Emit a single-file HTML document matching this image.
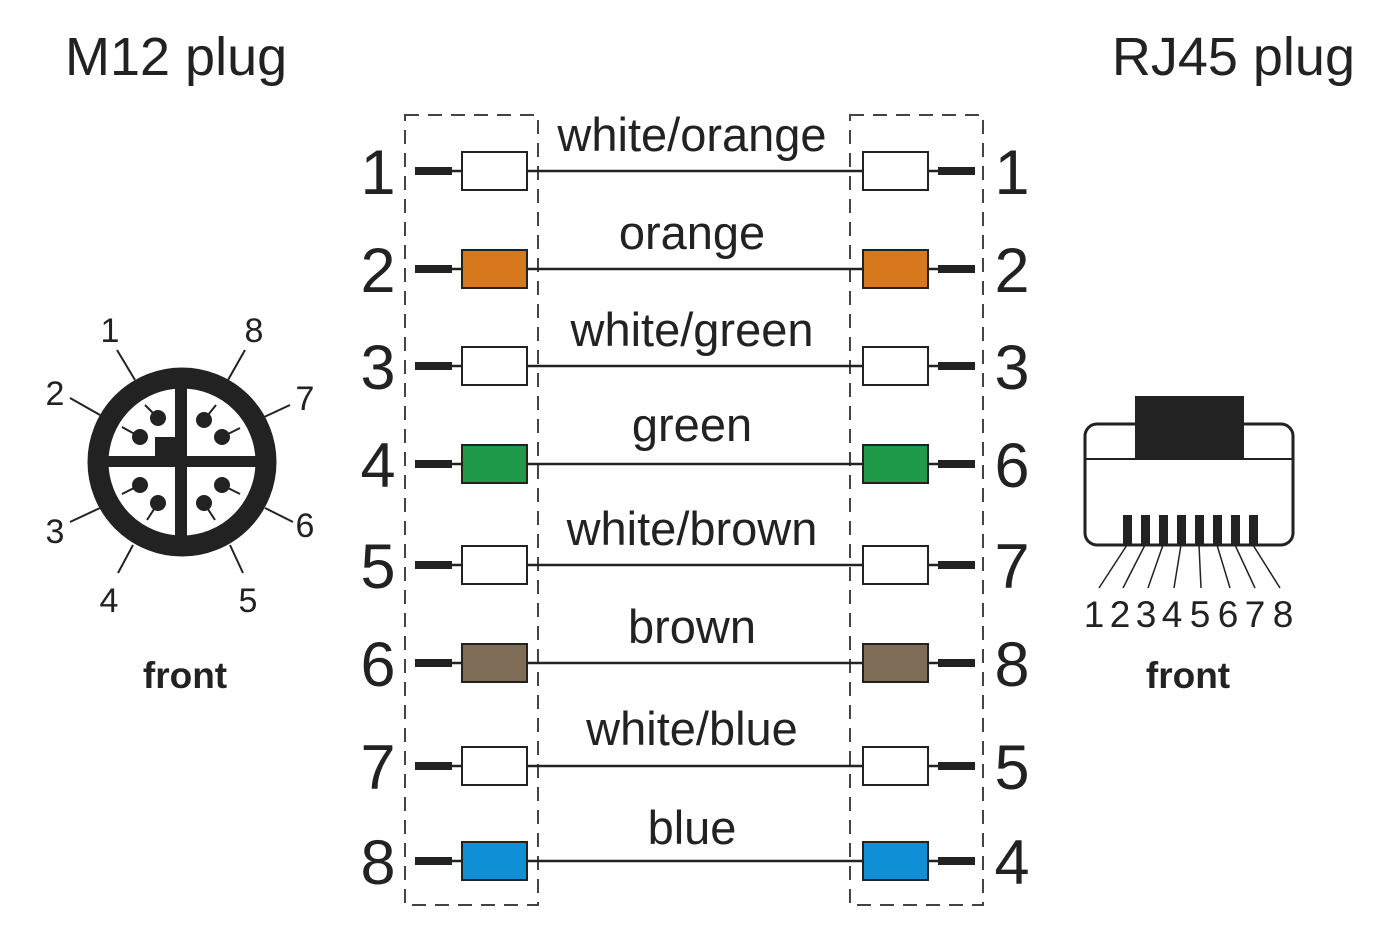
<!DOCTYPE html>
<html><head><meta charset="utf-8"><style>html,body{margin:0;padding:0;background:#fff}svg{display:block}</style></head><body>
<svg width="1400" height="933" viewBox="0 0 1400 933" xmlns="http://www.w3.org/2000/svg" font-family="Liberation Sans, sans-serif" fill="#222">
<text x="65" y="75" font-size="54">M12 plug</text>
<text x="1355" y="75" font-size="54" text-anchor="end">RJ45 plug</text>
<g fill="none" stroke="#444" stroke-width="2" stroke-dasharray="14,9">
<rect x="405" y="115" width="133" height="790"/>
<rect x="850" y="115" width="133" height="790"/>
</g>
<g font-size="63">
<text x="378" y="194" text-anchor="middle">1</text><text x="378" y="292" text-anchor="middle">2</text><text x="378" y="389" text-anchor="middle">3</text><text x="378" y="487" text-anchor="middle">4</text><text x="378" y="588" text-anchor="middle">5</text><text x="378" y="686" text-anchor="middle">6</text><text x="378" y="789" text-anchor="middle">7</text><text x="378" y="884" text-anchor="middle">8</text>
<text x="1012" y="194" text-anchor="middle">1</text><text x="1012" y="292" text-anchor="middle">2</text><text x="1012" y="389" text-anchor="middle">3</text><text x="1012" y="487" text-anchor="middle">6</text><text x="1012" y="588" text-anchor="middle">7</text><text x="1012" y="686" text-anchor="middle">8</text><text x="1012" y="789" text-anchor="middle">5</text><text x="1012" y="884" text-anchor="middle">4</text>
</g>
<g font-size="47" text-anchor="middle">
<text x="692" y="151">white/orange</text><text x="692" y="249">orange</text><text x="692" y="346">white/green</text><text x="692" y="441">green</text><text x="692" y="545">white/brown</text><text x="692" y="643">brown</text><text x="692" y="745">white/blue</text><text x="692" y="844">blue</text>
</g>
<g stroke="#222">
<g transform="translate(0,171)"><line x1="415" y1="0" x2="452" y2="0" stroke-width="8"/><line x1="452" y1="0" x2="938" y2="0" stroke-width="2.5"/><line x1="938" y1="0" x2="975" y2="0" stroke-width="8"/><rect x="462" y="-19" width="65" height="38" fill="#fff" stroke-width="2"/><rect x="863" y="-19" width="65" height="38" fill="#fff" stroke-width="2"/></g>
<g transform="translate(0,269)"><line x1="415" y1="0" x2="452" y2="0" stroke-width="8"/><line x1="452" y1="0" x2="938" y2="0" stroke-width="2.5"/><line x1="938" y1="0" x2="975" y2="0" stroke-width="8"/><rect x="462" y="-19" width="65" height="38" fill="#d8781c" stroke-width="2"/><rect x="863" y="-19" width="65" height="38" fill="#d8781c" stroke-width="2"/></g>
<g transform="translate(0,366)"><line x1="415" y1="0" x2="452" y2="0" stroke-width="8"/><line x1="452" y1="0" x2="938" y2="0" stroke-width="2.5"/><line x1="938" y1="0" x2="975" y2="0" stroke-width="8"/><rect x="462" y="-19" width="65" height="38" fill="#fff" stroke-width="2"/><rect x="863" y="-19" width="65" height="38" fill="#fff" stroke-width="2"/></g>
<g transform="translate(0,464)"><line x1="415" y1="0" x2="452" y2="0" stroke-width="8"/><line x1="452" y1="0" x2="938" y2="0" stroke-width="2.5"/><line x1="938" y1="0" x2="975" y2="0" stroke-width="8"/><rect x="462" y="-19" width="65" height="38" fill="#1f9a48" stroke-width="2"/><rect x="863" y="-19" width="65" height="38" fill="#1f9a48" stroke-width="2"/></g>
<g transform="translate(0,565)"><line x1="415" y1="0" x2="452" y2="0" stroke-width="8"/><line x1="452" y1="0" x2="938" y2="0" stroke-width="2.5"/><line x1="938" y1="0" x2="975" y2="0" stroke-width="8"/><rect x="462" y="-19" width="65" height="38" fill="#fff" stroke-width="2"/><rect x="863" y="-19" width="65" height="38" fill="#fff" stroke-width="2"/></g>
<g transform="translate(0,663)"><line x1="415" y1="0" x2="452" y2="0" stroke-width="8"/><line x1="452" y1="0" x2="938" y2="0" stroke-width="2.5"/><line x1="938" y1="0" x2="975" y2="0" stroke-width="8"/><rect x="462" y="-19" width="65" height="38" fill="#7e6c57" stroke-width="2"/><rect x="863" y="-19" width="65" height="38" fill="#7e6c57" stroke-width="2"/></g>
<g transform="translate(0,766)"><line x1="415" y1="0" x2="452" y2="0" stroke-width="8"/><line x1="452" y1="0" x2="938" y2="0" stroke-width="2.5"/><line x1="938" y1="0" x2="975" y2="0" stroke-width="8"/><rect x="462" y="-19" width="65" height="38" fill="#fff" stroke-width="2"/><rect x="863" y="-19" width="65" height="38" fill="#fff" stroke-width="2"/></g>
<g transform="translate(0,861)"><line x1="415" y1="0" x2="452" y2="0" stroke-width="8"/><line x1="452" y1="0" x2="938" y2="0" stroke-width="2.5"/><line x1="938" y1="0" x2="975" y2="0" stroke-width="8"/><rect x="462" y="-19" width="65" height="38" fill="#0f8fd6" stroke-width="2"/><rect x="863" y="-19" width="65" height="38" fill="#0f8fd6" stroke-width="2"/></g>
</g>
<!-- M12 -->
<g stroke="#222" stroke-width="2">
<line x1="117" y1="350" x2="135" y2="380"/><line x1="158" y1="418" x2="145" y2="405"/>
<line x1="70" y1="398" x2="100" y2="415"/><line x1="140" y1="437" x2="122" y2="427"/>
<line x1="245" y1="350" x2="228" y2="380"/><line x1="204" y1="420" x2="216" y2="405"/>
<line x1="290" y1="405" x2="262" y2="418"/><line x1="222" y1="437" x2="240" y2="428"/>
<line x1="70" y1="522" x2="100" y2="508"/><line x1="140" y1="485" x2="122" y2="494"/>
<line x1="118" y1="573" x2="133" y2="545"/><line x1="158" y1="503" x2="147" y2="520"/>
<line x1="293" y1="522" x2="265" y2="508"/><line x1="222" y1="485" x2="240" y2="494"/>
<line x1="243" y1="573" x2="230" y2="545"/><line x1="204" y1="503" x2="215" y2="520"/>
</g>
<circle cx="182" cy="462" r="84" fill="none" stroke="#222" stroke-width="21"/>
<rect x="175" y="385" width="12" height="155" fill="#222"/>
<rect x="105" y="456" width="155" height="11" fill="#222"/>
<rect x="155" y="437" width="22" height="22" fill="#222"/>
<g fill="#222"><circle cx="158" cy="418" r="8"/><circle cx="140" cy="437" r="8"/><circle cx="204" cy="420" r="8"/><circle cx="222" cy="437" r="8"/><circle cx="140" cy="485" r="8"/><circle cx="158" cy="503" r="8"/><circle cx="222" cy="485" r="8"/><circle cx="204" cy="503" r="8"/></g>
<g font-size="34" text-anchor="middle"><text x="110" y="342">1</text><text x="254" y="342">8</text><text x="55" y="405">2</text><text x="305" y="410">7</text><text x="55" y="543">3</text><text x="305" y="537">6</text><text x="109" y="612">4</text><text x="248" y="612">5</text></g>
<text x="185" y="688" font-size="37" font-weight="bold" text-anchor="middle">front</text>
<!-- RJ45 -->
<rect x="1085" y="424" width="208" height="121" rx="12" fill="#fff" stroke="#222" stroke-width="3"/>
<line x1="1085" y1="459" x2="1293" y2="459" stroke="#222" stroke-width="2"/>
<rect x="1135" y="396" width="109" height="64" fill="#222"/>
<g fill="#222"><rect x="1123" y="515" width="9" height="30"/><rect x="1141" y="515" width="9" height="30"/><rect x="1159" y="515" width="9" height="30"/><rect x="1177" y="515" width="9" height="30"/><rect x="1195" y="515" width="9" height="30"/><rect x="1213" y="515" width="9" height="30"/><rect x="1231" y="515" width="9" height="30"/><rect x="1249" y="515" width="9" height="30"/></g>
<g stroke="#222" stroke-width="1.5"><line x1="1127" y1="545" x2="1099" y2="588"/><line x1="1145" y1="545" x2="1123" y2="588"/><line x1="1163" y1="545" x2="1148" y2="588"/><line x1="1181" y1="545" x2="1174" y2="588"/><line x1="1199" y1="545" x2="1201" y2="588"/><line x1="1217" y1="545" x2="1230" y2="588"/><line x1="1235" y1="545" x2="1255" y2="588"/><line x1="1253" y1="545" x2="1280" y2="588"/></g>
<g font-size="37" text-anchor="middle"><text x="1094" y="627">1</text><text x="1120" y="627">2</text><text x="1146" y="627">3</text><text x="1172" y="627">4</text><text x="1200" y="627">5</text><text x="1228" y="627">6</text><text x="1255" y="627">7</text><text x="1283" y="627">8</text></g>
<text x="1188" y="688" font-size="37" font-weight="bold" text-anchor="middle">front</text>
</svg>
</body></html>
